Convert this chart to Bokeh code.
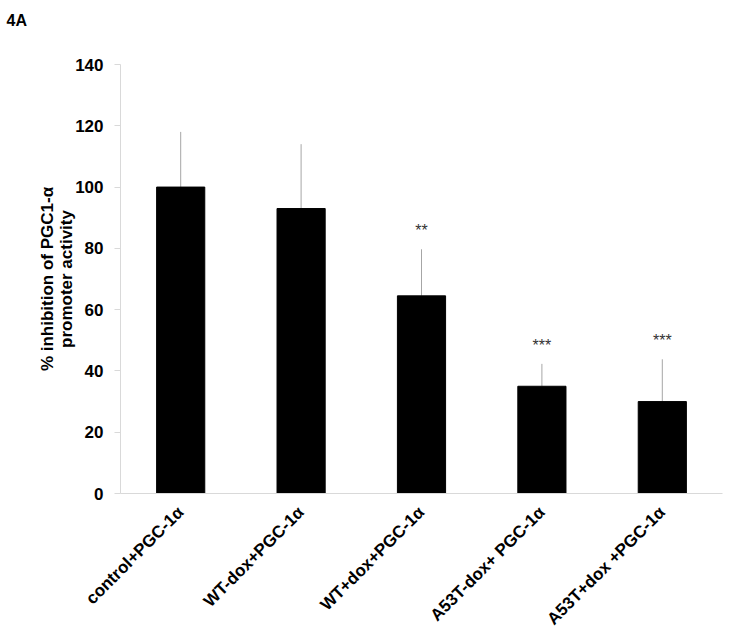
import math
from bokeh.plotting import figure
from bokeh.models import ColumnDataSource, Range1d, FixedTicker, Title
from bokeh.core.properties import value
from bokeh.embed import file_html
from bokeh.resources import INLINE

categories = ["control+PGC-1α", "WT-dox+PGC-1α", "WT+dox+PGC-1α", "A53T-dox+ PGC-1α", "A53T+dox +PGC-1α"]
means = [100, 93, 64.5, 35, 30]
errors = [18, 21, 15.2, 7.3, 13.8]
stars = ["", "", "**", "***", "***"]
y_ticks = [0, 20, 40, 60, 80, 100, 120, 140]

tops = [m + e for m, e in zip(means, errors)]
src = ColumnDataSource(dict(cat=categories, mean=means, top=tops, star=stars))

FONT = "Liberation Sans"
W, H = 726, 638

p = figure(x_range=categories, y_range=Range1d(0, 140), width=W, height=H,
           output_backend="svg", toolbar_location=None,
           min_border_left=120, min_border_right=4, min_border_top=64, min_border_bottom=144)
p.outline_line_color = None
p.grid.visible = False
p.background_fill_color = "white"

p.title = None
p.add_layout(Title(text="\u00a0", text_font_size="17px", text_font=FONT), "above")
p.add_layout(Title(text="4A", align="left", offset=-114,
                   text_font=FONT, text_font_style="bold", text_font_size="16px",
                   text_color="black"), "above")

p.segment(x0="cat", y0="mean", x1="cat", y1="top", source=src, line_color="#a6a6a6", line_width=1)
p.vbar(x="cat", top="mean", width=0.4, source=src, fill_color="black", line_color="black")
p.text(x="cat", y="top", text="star", source=src, text_align="center", text_baseline="bottom",
       y_offset=-10, text_font_size="16px", text_color="#333333", text_font=value(FONT))

ya = p.yaxis[0]
ya.ticker = FixedTicker(ticks=y_ticks)
ya.axis_line_color = "#d9d9d9"
ya.major_tick_line_color = "#d9d9d9"
ya.major_tick_out = 6
ya.major_tick_in = 0
ya.minor_tick_line_color = None
ya.major_label_standoff = 11
ya.major_label_text_font = FONT
ya.major_label_text_font_style = "bold"
ya.major_label_text_font_size = "17px"
ya.major_label_text_color = "black"
ya.axis_label = "% inhibition of PGC1-α\npromoter activity"
ya.axis_label_text_font = FONT
ya.axis_label_text_font_style = "bold"
ya.axis_label_text_font_size = "17px"
ya.axis_label_text_line_height = 1.0
ya.axis_label_text_color = "black"
ya.axis_label_standoff = -4

xa = p.xaxis[0]
xa.axis_line_color = "#d9d9d9"
xa.major_tick_line_color = None
xa.minor_tick_line_color = None
xa.major_label_orientation = math.pi / 4
xa.major_label_standoff = 10
xa.major_label_text_font = FONT
xa.major_label_text_font_style = "bold"
xa.major_label_text_font_size = "17px"
xa.major_label_text_color = "black"

open("out.html", "w").write(file_html(p, INLINE))
